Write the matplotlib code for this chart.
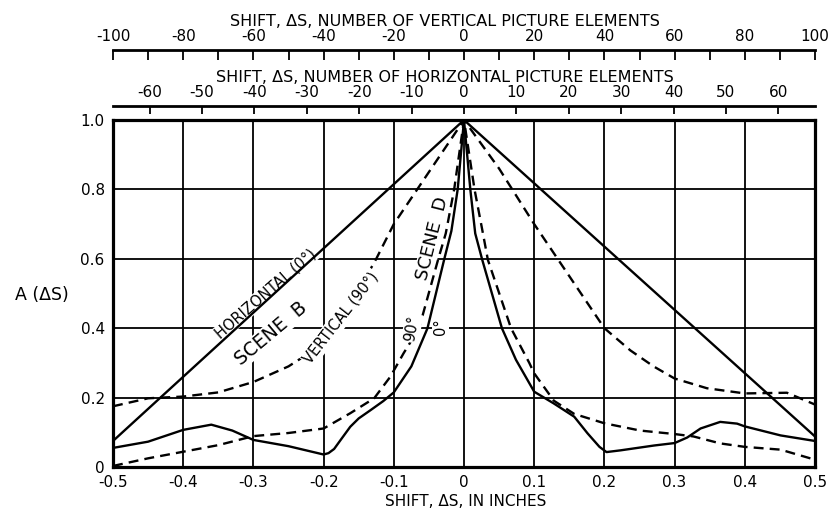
import numpy as np
import matplotlib
matplotlib.use("Agg")
import matplotlib.pyplot as plt

plt.rcParams['font.family'] = ['DejaVu Sans']

# SCENE B, horizontal (0 deg) - solid straight lines
hb_x = [-0.5, 0.0, 0.5]
hb_y = [0.075, 1.0, 0.088]

# SCENE B, vertical (90 deg) - dashed
vb_left_x = [-0.5, -0.45, -0.4, -0.35, -0.3, -0.25, -0.2, -0.175, -0.15, -0.125, -0.1, -0.05, 0.0]
vb_left_y = [0.175, 0.198, 0.203, 0.215, 0.245, 0.29, 0.355, 0.43, 0.51, 0.60, 0.70, 0.85, 1.0]
vb_right_x = [0.0, 0.05, 0.1, 0.15, 0.2, 0.237, 0.27, 0.3, 0.346, 0.4, 0.46, 0.5]
vb_right_y = [1.0, 0.86, 0.70, 0.55, 0.40, 0.336, 0.29, 0.255, 0.227, 0.212, 0.214, 0.18]

# SCENE D, 0 deg - solid
d0_left_x = [-0.5, -0.45, -0.4, -0.36, -0.33, -0.3, -0.25, -0.2, -0.193, -0.185, -0.175,
             -0.162, -0.15, -0.133, -0.115, -0.1, -0.075, -0.052, -0.028, -0.018, -0.009, 0.0]
d0_left_y = [0.055, 0.073, 0.107, 0.122, 0.105, 0.078, 0.06, 0.036, 0.04, 0.052, 0.08,
             0.116, 0.14, 0.164, 0.19, 0.215, 0.29, 0.40, 0.60, 0.68, 0.80, 1.0]
d0_right_x = [0.0, 0.009, 0.016, 0.026, 0.054, 0.074, 0.1, 0.128, 0.157, 0.176, 0.193,
              0.203, 0.223, 0.271, 0.3, 0.318, 0.337, 0.365, 0.389, 0.4, 0.451, 0.5]
d0_right_y = [1.0, 0.80, 0.673, 0.597, 0.40, 0.309, 0.217, 0.183, 0.145, 0.097, 0.058,
              0.043, 0.048, 0.062, 0.069, 0.085, 0.111, 0.13, 0.125, 0.117, 0.091, 0.075]

# SCENE D, 90 deg - dashed
d90_left_x = [-0.5, -0.45, -0.4, -0.35, -0.3, -0.25, -0.2, -0.162, -0.128, -0.105,
              -0.086, -0.064, -0.037, -0.026, -0.014, 0.0]
d90_left_y = [0.003, 0.025, 0.044, 0.063, 0.089, 0.098, 0.111, 0.155, 0.198, 0.26,
              0.328, 0.40, 0.597, 0.673, 0.80, 1.0]
d90_right_x = [0.0, 0.015, 0.027, 0.034, 0.067, 0.093, 0.1, 0.128, 0.157, 0.2, 0.251,
               0.3, 0.327, 0.365, 0.4, 0.451, 0.5]
d90_right_y = [1.0, 0.80, 0.673, 0.597, 0.40, 0.30, 0.27, 0.191, 0.153, 0.126, 0.105,
               0.095, 0.088, 0.068, 0.058, 0.05, 0.021]

x_ticks = [-0.5, -0.4, -0.3, -0.2, -0.1, 0, 0.1, 0.2, 0.3, 0.4, 0.5]
x_labels = ['-0.5', '-0.4', '-0.3', '-0.2', '-0.1', '0', '0.1', '0.2', '0.3', '0.4', '0.5']
y_ticks = [0, 0.2, 0.4, 0.6, 0.8, 1.0]
y_labels = ['0', '0.2', '0.4', '0.6', '0.8', '1.0']
vert_ticks = [-100, -80, -60, -40, -20, 0, 20, 40, 60, 80, 100]
vert_minor = [-90, -70, -50, -30, -10, 10, 30, 50, 70, 90]
horiz_ticks = [-60, -50, -40, -30, -20, -10, 0, 10, 20, 30, 40, 50, 60]

W, H = 832, 508
fig = plt.figure(figsize=(W / 100, H / 100), dpi=100)
ax = fig.add_axes([113 / W, 1 - 467 / H, 702 / W, 347 / H])

lw = 1.7
dash = (4.2, 2.6)
ax.plot(hb_x, hb_y, color='black', lw=lw, zorder=3)
ax.plot(vb_left_x + vb_right_x[1:], vb_left_y + vb_right_y[1:], color='black', lw=lw,
        dashes=dash, zorder=3)
ax.plot(d0_left_x + d0_right_x[1:], d0_left_y + d0_right_y[1:], color='black', lw=lw,
        zorder=3)
ax.plot(d90_left_x + d90_right_x[1:], d90_left_y + d90_right_y[1:], color='black', lw=lw,
        dashes=dash, zorder=3)

ax.set_xticks(x_ticks, x_labels)
ax.set_yticks(y_ticks, y_labels)
ax.tick_params(length=0, labelsize=11)
ax.tick_params(axis='x', pad=6)
ax.tick_params(axis='y', pad=6)
ax.set_axisbelow(True)
ax.grid(True, color='black', lw=1.3)
for s in ax.spines.values():
    s.set_linewidth(2.3)

# top scales
sec_h = ax.secondary_xaxis((467 - 106) / 347, functions=(lambda v: v * 134, lambda v: v / 134))
sec_h.set_xticks(horiz_ticks, [str(t) for t in horiz_ticks])
sec_h.tick_params(direction='in', length=5.5, width=1.3, labelsize=11, pad=4)
for s in sec_h.spines.values():
    s.set_linewidth(2)

sec_v = ax.secondary_xaxis((467 - 50) / 347, functions=(lambda v: v * 200, lambda v: v / 200))
sec_v.set_xticks(vert_ticks, [str(t) for t in vert_ticks])
sec_v.set_xticks(vert_minor, minor=True)
sec_v.tick_params(which='both', direction='in', length=7.5, width=1.3, labelsize=11, pad=4)
for s in sec_v.spines.values():
    s.set_linewidth(2)

fig.text(445 / W, 1 - 21 / H, 'SHIFT, ΔS, NUMBER OF VERTICAL PICTURE ELEMENTS',
         ha='center', va='center', fontsize=11.5)
fig.text(445 / W, 1 - 77 / H, 'SHIFT, ΔS, NUMBER OF HORIZONTAL PICTURE ELEMENTS',
         ha='center', va='center', fontsize=11.5)
fig.text(466 / W, 1 - 501 / H, 'SHIFT, ΔS, IN INCHES', ha='center', va='center', fontsize=11)
fig.text(42 / W, 1 - 295 / H, 'A (ΔS)', ha='center', va='center', fontsize=12.5)

box = dict(fc='white', ec='none', pad=0.6)
ax.text(-0.282, 0.50, 'HORIZONTAL (0°)', rotation=41, ha='center', va='center',
        fontsize=10.5, bbox=box, zorder=2.5)
ax.text(-0.275, 0.385, 'SCENE  B', rotation=40, ha='center', va='center',
        fontsize=13.5, bbox=box, zorder=2.5)
# these two sit inline with their dashed curves, breaking them
ax.text(-0.175, 0.43, 'VERTICAL (90°)', rotation=52, ha='center', va='center',
        fontsize=10.5, bbox=dict(fc='white', ec='none', pad=1.2), zorder=4)
ax.text(-0.074, 0.40, '90°', rotation=80, ha='center', va='center',
        fontsize=10.5, bbox=dict(fc='white', ec='none', pad=1.0), zorder=4)
ax.text(-0.033, 0.405, '0°', rotation=90, ha='center', va='center',
        fontsize=10.5, bbox=box, zorder=2.5)
ax.text(-0.045, 0.66, 'SCENE  D', rotation=76, ha='center', va='center',
        fontsize=13, bbox=box, zorder=2.5)

ax.set_xlim(-0.5, 0.5)
ax.set_ylim(0, 1.0)

fig.savefig('out.png', dpi=100)
